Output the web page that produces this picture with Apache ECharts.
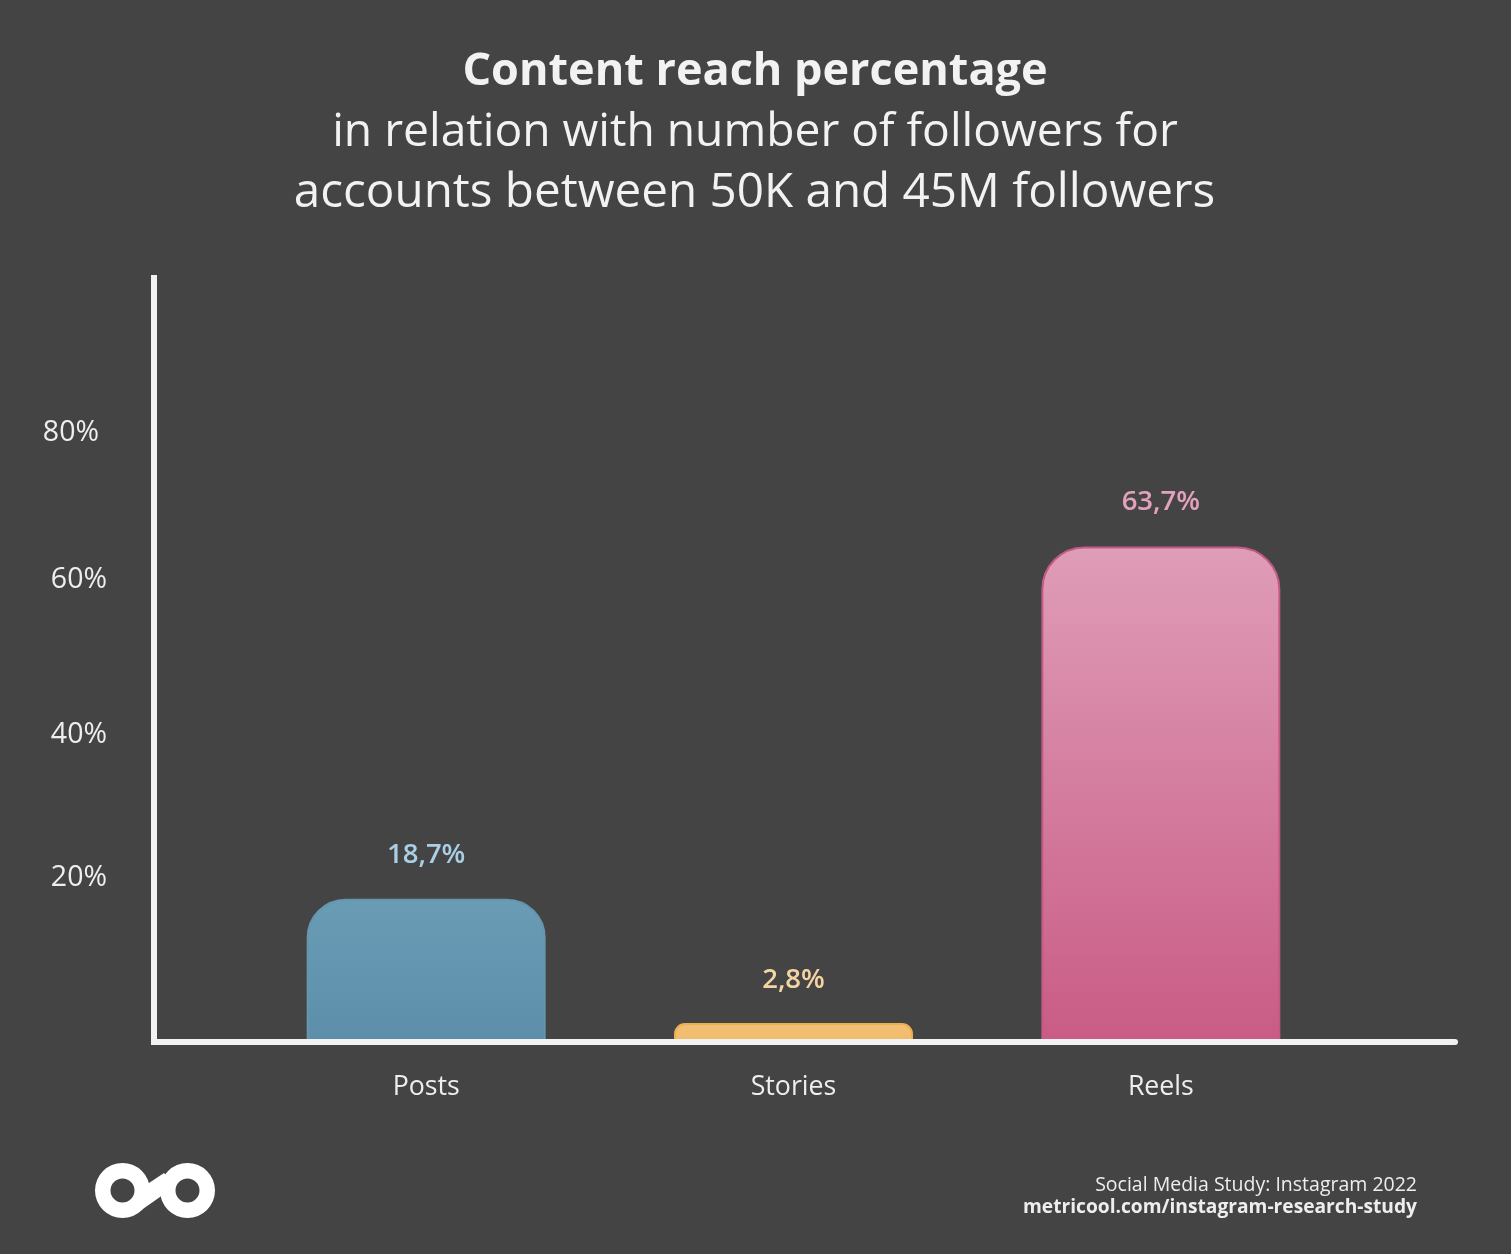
<!DOCTYPE html>
<html><head><meta charset="utf-8">
<style>html,body{margin:0;padding:0;background:#444444}#c{width:1511px;height:1254px}</style>
<script src="https://cdn.jsdelivr.net/npm/echarts@6/dist/echarts.min.js"></script>
</head><body><div id="c"></div>
<script>
const categories = ['Posts', 'Stories', 'Reels'];
const reach = [18.7, 2.8, 63.7];
const tickValues = [20, 40, 60, 80];
const titleLines = ['Content reach percentage', 'in relation with number of followers for', 'accounts between 50K and 45M followers'];
const footerLines = ['Social Media Study: Instagram 2022', 'metricool.com/instagram-research-study'];
const topColors = ['#6A9CB6', '#F2C077', '#DF9DB7'];
const bottomColors = ['#5C8EAA', '#EFBB68', '#C95B85'];
const borderColors = ['#6496B0', '#EDAE50', '#C25A85'];
const labelColors = ['#A9CFE6', '#F4D4A3', '#E3A1BD'];
const labelGaps = [29, 29, 30];
const radii = [38, 10, 42];

const FONT = '"Open Sans"';
const chart = echarts.init(document.getElementById('c'));
const tickStyle = {fontFamily: FONT, fontSize: 28.5, color: '#EEEEEE'};
const tickRich = {
  t20: {...tickStyle, padding: [0, 0, 22, 0]},
  t40: {...tickStyle, padding: [5, 0, 0, 0]},
  t60: {...tickStyle, padding: [8, 0, 0, 0]},
  t80: {...tickStyle, padding: [28, 8, 0, 0]}
};
const titleStyle = (size, weight) => ({fontFamily: FONT, fontSize: size, fontWeight: weight, color: '#F2F2F2'});
chart.setOption({
  backgroundColor: '#444444',
  animation: false,
  title: [
    {text: titleLines[0], left: 755, top: 50, padding: 0, textAlign: 'center', textStyle: titleStyle(45, 700)},
    {text: titleLines[1], left: 755, top: 110, padding: 0, textAlign: 'center', textStyle: titleStyle(46.2, 400)},
    {text: titleLines[2], left: 754.5, top: 169, padding: 0, textAlign: 'center', textStyle: titleStyle(47.6, 400)},
    {text: footerLines[0], left: 1417, top: 1175, padding: 0, textAlign: 'right', textStyle: {fontFamily: FONT, fontSize: 19.5, fontWeight: 400, color: '#EEEEEE'}},
    {text: footerLines[1], left: 1417, top: 1198, padding: 0, textAlign: 'right', textStyle: {fontFamily: FONT, fontSize: 19.2, fontWeight: 700, color: '#EEEEEE'}}
  ],
  grid: [
    {left: 154, width: 1301, top: 275, height: 770},
    {left: 242.5, width: 1102, top: 275, height: 770}
  ],
  xAxis: [
    {gridIndex: 0, type: 'value', min: 0, max: 1, z: 5, offset: -3, splitLine: {show: false}, axisTick: {show: false}, axisLabel: {show: false},
      axisLine: {show: true, lineStyle: {color: '#F2F2F2', width: 6, cap: 'round'}}},
    {gridIndex: 1, type: 'category', data: categories, axisLine: {show: false}, axisTick: {show: false},
      axisLabel: {margin: 29, fontFamily: FONT, fontSize: 26.7, color: '#EEEEEE'}}
  ],
  yAxis: [
    {gridIndex: 0, type: 'value', min: 0, max: 98.38, interval: 20, z: 5, splitLine: {show: false}, axisTick: {show: false},
      axisLine: {show: true, lineStyle: {color: '#F2F2F2', width: 6, cap: 'butt'}},
      axisLabel: {margin: 47, showMaxLabel: false, rich: tickRich,
        formatter: v => tickValues.includes(v) ? `{t${v}|${v}%}` : ''}},
    {gridIndex: 1, type: 'value', min: 0, max: 98.38, show: false}
  ],
  series: [{
    type: 'bar', xAxisIndex: 1, yAxisIndex: 1, barWidth: 239, z: 2,
    data: reach.map((v, i) => ({
      value: v,
      itemStyle: {
        color: {type: 'linear', x: 0, y: 0, x2: 0, y2: 1, colorStops: [{offset: 0, color: topColors[i]}, {offset: 1, color: bottomColors[i]}]},
        borderColor: borderColors[i], borderWidth: 2, borderRadius: [radii[i], radii[i], 0, 0]
      },
      label: {color: labelColors[i], distance: labelGaps[i]}
    })),
    label: {show: true, position: 'top', fontFamily: FONT, fontSize: 27.5, fontWeight: 600,
      formatter: p => String(p.value).replace('.', ',') + '%'}
  }],
  graphic: [
    {type: 'ring', shape: {cx: 122.5, cy: 1190.5, r: 27.5, r0: 12}, style: {fill: '#FFFFFF'}},
    {type: 'ring', shape: {cx: 187.5, cy: 1190.5, r: 27.5, r0: 12}, style: {fill: '#FFFFFF'}},
    {type: 'polygon', shape: {points: [[149, 1183], [164, 1173], [172, 1182], [160, 1197], [140, 1211], [133, 1200]]}, style: {fill: '#FFFFFF'}}
  ]
});
</script></body></html>
